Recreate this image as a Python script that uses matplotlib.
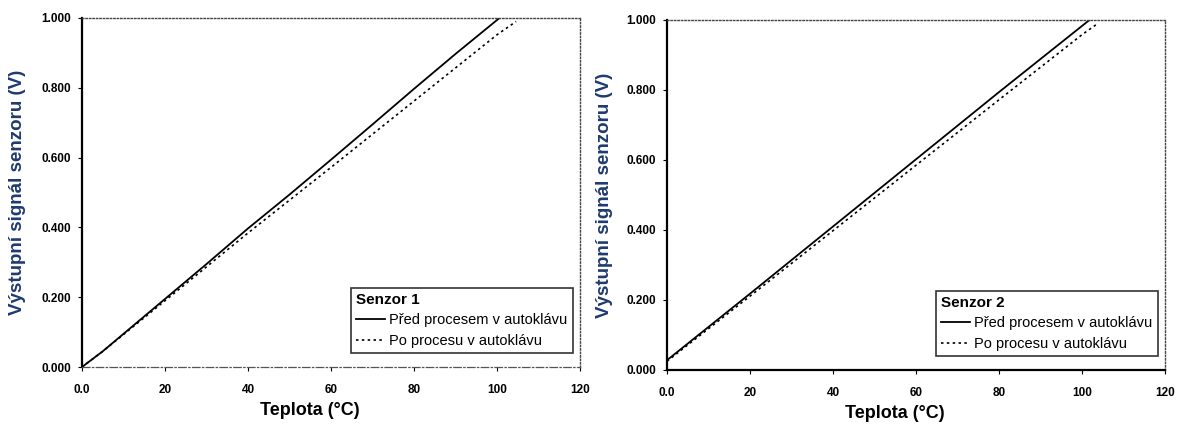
import numpy as np
import matplotlib.pyplot as plt

plt.rcParams['font.family'] = ['Liberation Sans', 'DejaVu Sans']

# Senzor 1
t1_pred = [0, 5, 10, 20, 30, 40, 50, 60, 70, 80, 90, 100.6]
u1_pred = [0.0, 0.045, 0.095, 0.195, 0.295, 0.397, 0.494, 0.594, 0.695, 0.797, 0.897, 1.0]
t1_po = [0, 5, 10, 20, 30, 40, 50, 60, 70, 80, 90, 100, 104.6]
u1_po = [0.0, 0.045, 0.093, 0.19, 0.287, 0.384, 0.478, 0.572, 0.667, 0.762, 0.857, 0.952, 0.99]

# Senzor 2
t2_pred = [0, 20, 40, 60, 80, 101.8]
u2_pred = [0.028, 0.218, 0.41, 0.602, 0.794, 1.0]
t2_po = [0, 20, 40, 60, 80, 100, 103.8]
u2_po = [0.025, 0.211, 0.398, 0.585, 0.772, 0.958, 0.99]

xticks = [0, 20, 40, 60, 80, 100, 120]
xlabels = ['0.0', '20', '40', '60', '80', '100', '120']
yticks = [0.0, 0.2, 0.4, 0.6, 0.8, 1.0]
ylabels = ['0.000', '0.200', '0.400', '0.600', '0.800', '1.000']

fig = plt.figure(figsize=(11.85, 4.25), dpi=100)
ax1 = fig.add_axes([82 / 1185, 1 - 367 / 425, 498 / 1185, 349 / 425])
ax2 = fig.add_axes([667 / 1185, 1 - 370 / 425, 498 / 1185, 350 / 425])

panels = [
    (ax1, t1_pred, u1_pred, t1_po, u1_po, 'Senzor 1', (310 - 82) / 498, -0.112),
    (ax2, t2_pred, u2_pred, t2_po, u2_po, 'Senzor 2', (895 - 667) / 498, -0.108),
]

for ax, tp, up, to, uo, name, xl, yl in panels:
    ax.plot(tp, up, color='black', lw=1.3, label='Před procesem v autoklávu')
    ax.plot(to, uo, color='black', lw=1.2, ls=(0, (1.5, 2)), label='Po procesu v autoklávu')
    ax.set_xlim(0, 120)
    ax.set_ylim(0, 1.0)
    ax.set_xticks(xticks)
    ax.set_xticklabels(xlabels, fontsize=8.5, fontweight='bold')
    ax.set_yticks(yticks)
    ax.set_yticklabels(ylabels, fontsize=8.5, fontweight='bold')
    ax.tick_params(axis='x', direction='out', length=3, width=0.8, pad=9)
    ax.tick_params(axis='y', direction='out', length=3, width=0.8, pad=5)
    ax.spines['left'].set_linewidth(1.6)
    for s in ['top', 'right']:
        ax.spines[s].set_linestyle((0, (1, 1.5)))
        ax.spines[s].set_linewidth(1.0)
        ax.spines[s].set_color('#444444')
    ax.set_xlabel('Teplota (°C)', fontsize=13, fontweight='bold')
    ax.xaxis.set_label_coords(xl, -0.1)
    ax.set_ylabel('Výstupní signál senzoru (V)', fontsize=13.5, fontweight='bold', color='#1f3a6e')
    ax.yaxis.set_label_coords(yl, 0.5)
    leg = ax.legend(title=name, loc='lower right', bbox_to_anchor=(0.985, 0.04),
                    fontsize=10.5, title_fontproperties={'weight': 'bold', 'size': 11},
                    frameon=True, fancybox=False, edgecolor='black', handlelength=2.0,
                    handletextpad=0.3, borderpad=0.35, labelspacing=0.45, borderaxespad=0)
    leg._legend_box.align = 'left'
    leg.get_frame().set_linewidth(1.2)

# left chart bottom axis is a thin grey dash-dot line, right chart is solid
ax1.spines['bottom'].set_linestyle((0, (6, 2, 1, 2)))
ax1.spines['bottom'].set_linewidth(0.9)
ax1.spines['bottom'].set_color('#555555')
ax2.spines['bottom'].set_linewidth(1.6)

fig.savefig('out.png', dpi=100)
